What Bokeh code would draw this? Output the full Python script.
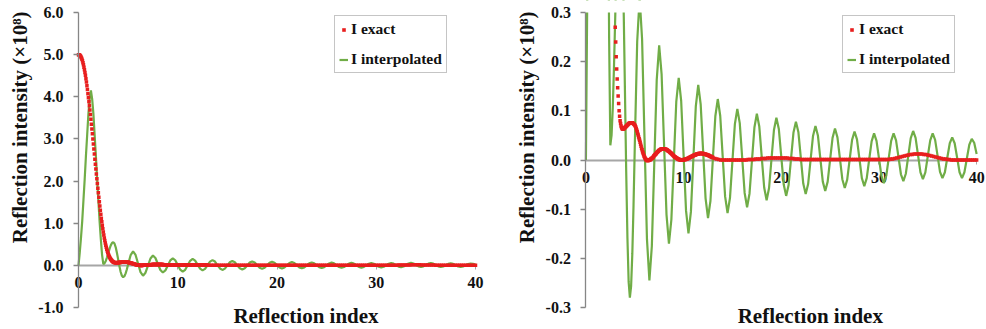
import numpy as np
from bokeh.plotting import figure
from bokeh.models import (Range1d, FixedTicker, NumeralTickFormatter, Label, Title,
                          Legend, LegendItem, BoxAnnotation)
from bokeh.layouts import row
from bokeh.embed import file_html
from bokeh.resources import INLINE

# ---------------- data ----------------
X_TICKS = [0, 10, 20, 30, 40]
X_TICK_LABELS = ["0", "10", "20", "30", "40"]
LEFT_Y_TICKS = [-1, 0, 1, 2, 3, 4, 5, 6]
RIGHT_Y_TICKS = [-0.3, -0.2, -0.1, 0.0, 0.1, 0.2, 0.3]

# I exact: fine sampling from 0 (step 0.05), then coarse sampling from 13 (step 0.2)
EXACT_FINE_START = 0.0
EXACT_FINE_STEP = 0.05
EXACT_FINE = [
    5.000, 4.998, 4.990, 4.980, 4.965, 4.945, 4.920, 4.890, 4.855, 4.810,
    4.760, 4.700, 4.640, 4.575, 4.510, 4.430, 4.350, 4.260, 4.170, 4.075,
    3.980, 3.885, 3.790, 3.685, 3.580, 3.465, 3.350, 3.235, 3.120, 3.000,
    2.880, 2.760, 2.640, 2.520, 2.400, 2.285, 2.170, 2.055, 1.940, 1.830,
    1.720, 1.615, 1.510, 1.410, 1.310, 1.215, 1.120, 1.035, 0.950, 0.870,
    0.790, 0.720, 0.650, 0.590, 0.530, 0.480, 0.430, 0.385, 0.340, 0.305,
    0.270, 0.240, 0.210, 0.185, 0.165, 0.147, 0.130, 0.115, 0.100, 0.089,
    0.080, 0.074, 0.069, 0.066, 0.064, 0.063, 0.063, 0.063, 0.064, 0.065,
    0.066, 0.067, 0.068, 0.069, 0.070, 0.071, 0.072, 0.073, 0.074, 0.075,
    0.075, 0.076, 0.076, 0.076, 0.076, 0.076, 0.075, 0.074, 0.073, 0.072,
    0.071, 0.069, 0.067, 0.064, 0.061, 0.058, 0.054, 0.051, 0.047, 0.043,
    0.040, 0.036, 0.032, 0.028, 0.024, 0.021, 0.017, 0.014, 0.011, 0.008,
    0.006, 0.004, 0.002, 0.001, 0.000, -0.001, -0.001, -0.001, -0.001, 0.000,
    0.000, 0.000, 0.001, 0.002, 0.003, 0.003, 0.004, 0.005, 0.006, 0.008,
    0.009, 0.010, 0.011, 0.012, 0.013, 0.015, 0.016, 0.017, 0.018, 0.019,
    0.020, 0.020, 0.021, 0.022, 0.022, 0.022, 0.023, 0.023, 0.023, 0.023,
    0.023, 0.023, 0.022, 0.022, 0.022, 0.021, 0.021, 0.020, 0.019, 0.018,
    0.018, 0.017, 0.016, 0.015, 0.014, 0.013, 0.012, 0.011, 0.010, 0.009,
    0.008, 0.007, 0.006, 0.006, 0.005, 0.004, 0.004, 0.003, 0.002, 0.002,
    0.001, 0.001, 0.001, 0.000, 0.000, 0.000, 0.000, 0.000, 0.000, 0.000,
    0.000, 0.001, 0.001, 0.001, 0.001, 0.002, 0.002, 0.002, 0.003, 0.003,
    0.004, 0.004, 0.005, 0.005, 0.006, 0.006, 0.007, 0.007, 0.008, 0.008,
    0.009, 0.009, 0.010, 0.010, 0.010, 0.011, 0.011, 0.012, 0.012, 0.012,
    0.012, 0.013, 0.013, 0.013, 0.013, 0.013, 0.013, 0.013, 0.013, 0.013,
    0.013, 0.012, 0.012, 0.012, 0.012, 0.011, 0.011, 0.011, 0.010, 0.010,
    0.010, 0.009, 0.009, 0.008, 0.008, 0.007, 0.007, 0.006, 0.006, 0.005,
]
EXACT_COARSE_START = 13.0
EXACT_COARSE_STEP = 0.2
EXACT_COARSE = [
    0.005, 0.003, 0.002, 0.001, 0.000, 0.000, 0.000, 0.000, 0.000, 0.000,
    0.000, 0.000, 0.000, 0.000, 0.000, 0.000, 0.000, 0.000, 0.001, 0.001,
    0.001, 0.001, 0.002, 0.002, 0.002, 0.003, 0.003, 0.003, 0.004, 0.004,
    0.004, 0.004, 0.004, 0.004, 0.004, 0.004, 0.004, 0.004, 0.004, 0.003,
    0.003, 0.003, 0.002, 0.002, 0.002, 0.001, 0.001, 0.001, 0.001, 0.001,
    0.001, 0.001, 0.001, 0.001, 0.001, 0.001, 0.001, 0.001, 0.001, 0.001,
    0.001, 0.001, 0.001, 0.001, 0.001, 0.001, 0.001, 0.001, 0.001, 0.001,
    0.001, 0.001, 0.001, 0.001, 0.001, 0.001, 0.001, 0.001, 0.001, 0.001,
    0.001, 0.001, 0.001, 0.001, 0.001, 0.001, 0.001, 0.001, 0.001, 0.001,
    0.001, 0.002, 0.002, 0.003, 0.004, 0.005, 0.006, 0.007, 0.008, 0.009,
    0.010, 0.011, 0.011, 0.012, 0.012, 0.012, 0.012, 0.012, 0.011, 0.011,
    0.010, 0.009, 0.008, 0.007, 0.006, 0.005, 0.004, 0.003, 0.002, 0.002,
    0.001, 0.001, 0.000, 0.000, 0.000, 0.000, 0.000, 0.000, 0.000, 0.000,
    0.000, 0.000, 0.000, 0.000, 0.000, 0.000,
]

# I interpolated: step 0.125 from 0, then step 0.25 from 5
INTERP_FINE_START = 0.0
INTERP_FINE_STEP = 0.125
INTERP_FINE = [
    0.00, 0.30, 0.65, 1.05, 1.55, 2.05, 2.60, 3.10,
    3.60, 3.95, 4.15, 3.95, 3.60, 3.10, 2.60, 2.05,
    1.55, 1.05, 0.62, 0.25, 0.03, 0.050, 0.106, 0.190,
    0.290, 0.390, 0.474, 0.530, 0.550, 0.518, 0.428, 0.294,
    0.135, -0.024, -0.158, -0.248, -0.280, -0.257, -0.191, -0.092,
]
INTERP_COARSE_START = 5.0
INTERP_COARSE_STEP = 0.25
INTERP_COARSE = [
    0.025, 0.241, 0.330, 0.246, 0.043, -0.161, -0.245, -0.175,
    -0.006, 0.163, 0.233, 0.174, 0.032, -0.111, -0.170, -0.121,
    -0.002, 0.118, 0.167, 0.121, 0.009, -0.103, -0.149, -0.105,
    0.002, 0.109, 0.153, 0.113, 0.018, -0.078, -0.118, -0.083,
    0.003, 0.089, 0.124, 0.090, 0.008, -0.074, -0.108, -0.077,
    -0.002, 0.073, 0.104, 0.075, 0.004, -0.067, -0.096, -0.068,
    -0.001, 0.066, 0.094, 0.068, 0.006, -0.056, -0.082, -0.057,
    0.002, 0.061, 0.086, 0.063, 0.007, -0.050, -0.073, -0.051,
    0.003, 0.056, 0.078, 0.057, 0.005, -0.048, -0.069, -0.049,
    0.000, 0.049, 0.069, 0.050, 0.003, -0.044, -0.063, -0.044,
    0.001, 0.045, 0.064, 0.046, 0.004, -0.039, -0.057, -0.040,
    0.001, 0.041, 0.058, 0.042, 0.003, -0.037, -0.053, -0.037,
    0.001, 0.038, 0.054, 0.039, 0.004, -0.032, -0.047, -0.032,
    0.004, 0.039, 0.054, 0.040, 0.006, -0.029, -0.043, -0.028,
    0.008, 0.044, 0.059, 0.045, 0.010, -0.025, -0.039, -0.025,
    0.008, 0.040, 0.054, 0.041, 0.009, -0.024, -0.037, -0.025,
    0.005, 0.034, 0.046, 0.034, 0.005, -0.025, -0.037, -0.025,
    0.003, 0.031, 0.043, 0.035, 0.012,
]


def grid(start, step, n):
    return np.round(start + np.arange(n) * step, 4)


EXACT_X = np.concatenate([grid(EXACT_FINE_START, EXACT_FINE_STEP, len(EXACT_FINE)),
                          grid(EXACT_COARSE_START, EXACT_COARSE_STEP, len(EXACT_COARSE))])
EXACT_Y = np.array(EXACT_FINE + EXACT_COARSE)
INTERP_X = np.concatenate([grid(INTERP_FINE_START, INTERP_FINE_STEP, len(INTERP_FINE)),
                           grid(INTERP_COARSE_START, INTERP_COARSE_STEP, len(INTERP_COARSE))])
INTERP_Y = np.array(INTERP_FINE + INTERP_COARSE)

# ---------------- style / layout ----------------
FONT = "Liberation Serif"
GREEN = "#70AD47"
RED = "#E81E1E"
AXIS_GRAY = "#868686"
ZERO_GRAY = "#a6a6a6"
TEXT = "#111111"
HEIGHT = 328
AXIS_TOP_PX = 12      # pixel row of the top y tick
AXIS_BOTTOM_PX = 307  # pixel row of the bottom y tick
X_MIN, X_MAX = 0, 40


def make_panel(width, frame_l, zero_px, forty_px, frame_r, legend_l,
               y_lo, y_hi, y_ticks, fmt):
    # pixel layout (relative to the figure) -> view ranges
    ppu_x = (forty_px - zero_px) / (X_MAX - X_MIN)
    x_view_lo = X_MIN - (zero_px - frame_l) / ppu_x
    x_view_hi = X_MAX + (frame_r - forty_px) / ppu_x
    ppu_y = (AXIS_BOTTOM_PX - AXIS_TOP_PX) / (y_hi - y_lo)
    y_view_hi = y_hi + AXIS_TOP_PX / ppu_y
    y_view_lo = y_lo - (HEIGHT - AXIS_BOTTOM_PX) / ppu_y

    p = figure(width=width, height=HEIGHT, x_range=Range1d(x_view_lo, x_view_hi),
               y_range=Range1d(y_view_lo, y_view_hi),
               output_backend="svg", toolbar_location=None,
               min_border_left=frame_l, min_border_right=width - frame_r,
               min_border_top=0, min_border_bottom=0)
    p.outline_line_color = None
    p.grid.visible = False

    ya = p.yaxis[0]
    ya.fixed_location = X_MIN
    ya.ticker = FixedTicker(ticks=y_ticks)
    ya.bounds = (y_lo, y_hi)
    ya.formatter = NumeralTickFormatter(format=fmt)
    ya.axis_line_color = AXIS_GRAY
    ya.axis_line_width = 1.3
    ya.major_tick_line_color = AXIS_GRAY
    ya.major_tick_line_width = 1.3
    ya.major_tick_out = 5
    ya.major_tick_in = 0
    ya.minor_tick_line_color = None
    ya.major_label_text_font = FONT
    ya.major_label_text_font_style = "bold"
    ya.major_label_text_font_size = "16px"
    ya.major_label_text_color = TEXT
    ya.major_label_standoff = 10

    xa = p.xaxis[0]
    xa.fixed_location = 0
    xa.bounds = (X_MIN, X_MAX)
    xa.level = "underlay"
    xa.ticker = FixedTicker(ticks=X_TICKS)
    xa.major_label_overrides = {t: s for t, s in zip(X_TICKS, X_TICK_LABELS)}
    xa.axis_line_color = ZERO_GRAY
    xa.axis_line_width = 2
    xa.major_tick_line_color = ZERO_GRAY
    xa.major_tick_out = 4
    xa.major_tick_in = 0
    xa.minor_tick_line_color = None
    xa.major_label_text_font = FONT
    xa.major_label_text_font_style = "bold"
    xa.major_label_text_font_size = "16px"
    xa.major_label_text_color = TEXT
    xa.major_label_standoff = 8

    g = p.line(INTERP_X, INTERP_Y, line_color=GREEN, line_width=2.2)
    r = p.scatter(EXACT_X, EXACT_Y, marker="square", size=3.5,
                  fill_color=RED, line_color=None)
    # the plot area ends at the top tick: mask anything drawn above it
    p.add_layout(BoxAnnotation(bottom=y_hi, left=X_MIN, fill_color="white", fill_alpha=1.0,
                               line_color=None, level="glyph"))

    p.add_layout(Label(x=20, y=y_lo, x_offset=29, y_offset=-8, text="Reflection index",
                       text_align="center", text_baseline="middle", text_font=FONT,
                       text_font_style="bold", text_font_size="21px", text_color=TEXT))
    p.add_layout(Title(text="Reflection intensity (\u00d710\u2078)", align="right",
                       offset=11, standoff=8, text_font=FONT, text_font_style="bold",
                       text_font_size="21px", text_color=TEXT), "left")

    legend = Legend(items=[LegendItem(label="I exact", renderers=[r]),
                           LegendItem(label="I interpolated", renderers=[g])],
                    location=(legend_l - frame_l, HEIGHT - 15 - 58),
                    orientation="vertical",
                    border_line_color="#8c8c8c", border_line_width=1,
                    background_fill_color="white", background_fill_alpha=1.0,
                    padding=4, spacing=12, margin=0,
                    label_height=17, glyph_height=17, glyph_width=9, label_standoff=3,
                    label_text_font=FONT, label_text_font_style="bold",
                    label_text_font_size="15.5px", label_text_color=TEXT)
    p.add_layout(legend)
    return p


left = make_panel(508, 35, 78, 475, 490, 334, -1.0, 6.0, LEFT_Y_TICKS, "0.0")
right = make_panel(478, 28, 72, 468, 478, 328, -0.3, 0.3, RIGHT_Y_TICKS, "0.0")

layout = row(left, right)
open("out.html", "w").write(file_html(layout, INLINE))
